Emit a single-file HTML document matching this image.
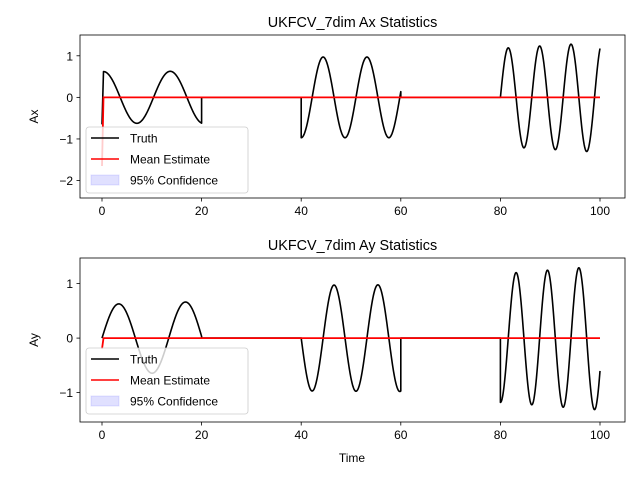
<!DOCTYPE html>
<html><head><meta charset="utf-8"><style>
body{margin:0;background:#fff}
svg text{font-family:"Liberation Sans","DejaVu Sans",sans-serif;fill:#000}
</style></head><body>
<svg id="c" width="640" height="480" xmlns="http://www.w3.org/2000/svg"></svg>
<script>
// segment data: start time, end time, amplitude start, amplitude end, period, kind
const segStart=[0.3,40,80];
const segEnd=[20,60,100];
const axAmpStart=[0.62,0.97,1.18];
const axAmpEnd=[0.63,0.97,1.32];
const ayAmpStart=[0.62,0.97,1.18];
const ayAmpEnd=[0.67,0.98,1.32];
const segPeriod=[13.4,8.8,6.3];
const axKind=["cos","-cos","sin"];
const ayKind=["sin","-sin","-cos"];
const meanStartAx=[-1.65,0];
const meanStartAy=[-0.2,0];
const xTicks=[0,20,40,60,80,100];
const axTicks=[1,0,-1,-2];
const ayTicks=[1,0,-1];
const NS="http://www.w3.org/2000/svg";
const svg=document.getElementById('c');
function mk(tag,attrs,parent){const e=document.createElementNS(NS,tag);for(const k in attrs)e.setAttribute(k,attrs[k]);(parent||svg).appendChild(e);return e;}
function fn(kind,x){if(kind==="sin")return Math.sin(x);if(kind==="-sin")return -Math.sin(x);if(kind==="cos")return Math.cos(x);return -Math.cos(x);}
function panel(o){
  const X=t=>102+4.98*t;
  const Y=v=>o.y0+(o.ymax-v)/(o.ymax-o.ymin)*(o.y1-o.y0);
  const g=mk('g',{});
  let d='M'+X(0)+','+Y(o.kind[0]==="cos"?-0.65:0)+' ';
  for(let s=0;s<segStart.length;s++){
    const ph=(s===0?(o.kind[s]==="cos"?0.3:0):segStart[s]);
    if(s>0)d+='L'+X(segStart[s]).toFixed(2)+','+Y(0).toFixed(2)+' ';
    for(let i=0;i<=400;i++){const t=segStart[s]+(segEnd[s]-segStart[s])*i/400;
      const a=o.ampS[s]+(o.ampE[s]-o.ampS[s])*i/400;
      const v=a*fn(o.kind[s],2*Math.PI*(t-ph)/segPeriod[s]);
      d+='L'+X(t).toFixed(2)+','+Y(v).toFixed(2)+' ';}
    if(s<segStart.length-1)d+='L'+X(segEnd[s]).toFixed(2)+','+Y(0).toFixed(2)+' ';
  }
  const p=mk('path',{d:d,fill:'none',stroke:'#000','stroke-width':1.6,'stroke-linejoin':'round'},g);
  
  const m=mk('path',{d:'M'+X(0)+','+Y(o.mean[0])+' L'+X(0.3)+','+Y(o.mean[1])+' L'+X(100)+','+Y(o.mean[1]),fill:'none',stroke:'#f00','stroke-width':1.8},g);
  
  const fr=mk('rect',{x:o.x0,y:o.y0,width:o.x1-o.x0,height:o.y1-o.y0,fill:'none',stroke:'#000','stroke-width':0.8},g);
  
  xTicks.forEach(t=>{mk('line',{x1:X(t),x2:X(t),y1:o.y1,y2:o.y1+3.5,stroke:'#000','stroke-width':0.8},g);
    const tx=mk('text',{x:X(t),y:o.y1+17,'font-size':12,'text-anchor':'middle'},g);tx.textContent=t;
    });
  o.ticks.forEach(v=>{mk('line',{x1:o.x0,x2:o.x0-3.5,y1:Y(v),y2:Y(v),stroke:'#000','stroke-width':0.8},g);
    const tx=mk('text',{x:o.x0-7,y:Y(v)+4.5,'font-size':12,'text-anchor':'end'},g);tx.textContent=v<0?'\u2212'+(-v):v;
    });
  const ti=mk('text',{x:(o.x0+o.x1)/2,y:o.y0-8,'font-size':14.4,'text-anchor':'middle'},g);ti.textContent=o.title;
  
  const yl=mk('text',{x:0,y:0,'font-size':12,'text-anchor':'middle',transform:'translate(38,'+((o.y0+o.y1)/2)+') rotate(-90)'},g);yl.textContent=o.ylab;
  
  const lg=mk('g',{},g);
  const ly=o.legY;
  mk('rect',{x:86,y:ly,width:162,height:66,rx:3,fill:'#fff','fill-opacity':0.8,stroke:'#ccc','stroke-width':0.8},lg);
  mk('line',{x1:91,x2:119,y1:ly+11,y2:ly+11,stroke:'#000','stroke-width':1.6},lg);
  mk('line',{x1:91,x2:119,y1:ly+32,y2:ly+32,stroke:'#f00','stroke-width':1.6},lg);
  mk('rect',{x:91,y:ly+48,width:28,height:10,fill:'#00f','fill-opacity':0.12,stroke:'#00f','stroke-opacity':0.1},lg);
  [['Truth',15],['Mean Estimate',36],['95% Confidence',57]].forEach(a=>{const t=mk('text',{x:130,y:ly+a[1]+0.5,'font-size':12},lg);t.textContent=a[0];
    });
}
panel({name:'ax',x0:80,x1:625,y0:35,y1:198,ymax:1.5,ymin:-2.42,ampS:axAmpStart,ampE:axAmpEnd,kind:axKind,mean:meanStartAx,ticks:axTicks,title:'UKFCV_7dim Ax Statistics',ylab:'Ax',legY:127});
panel({name:'ay',x0:80,x1:625,y0:258,y1:422,ymax:1.47,ymin:-1.54,ampS:ayAmpStart,ampE:ayAmpEnd,kind:ayKind,mean:meanStartAy,ticks:ayTicks,title:'UKFCV_7dim Ay Statistics',ylab:'Ay',legY:348});
const xl=mk('text',{x:352,y:462,'font-size':12,'text-anchor':'middle'});xl.textContent='Time';


</script>
</body></html>
